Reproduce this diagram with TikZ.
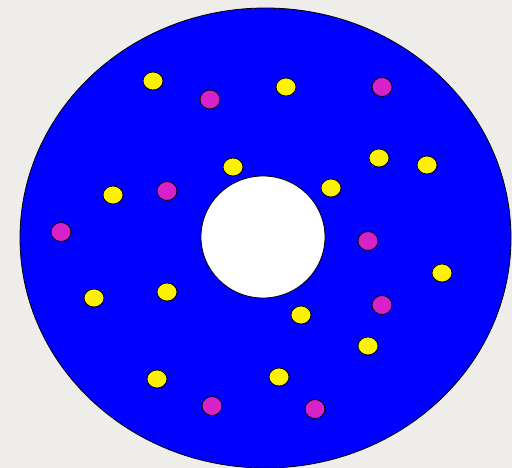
\documentclass[tikz,border=0pt]{standalone}
\begin{document}
\begin{tikzpicture}[x=1pt,y=-1pt,
  ydot/.style={fill=yellow,draw=black,line width=0.8pt},
  mdot/.style={fill=dotmag,draw=black,line width=0.8pt}]
\definecolor{paper}{HTML}{EFEDEA}
\definecolor{dotmag}{HTML}{D622C8}
\definecolor{ringblue}{HTML}{0000FF}
\fill[paper] (0,0) rectangle (512,468);
\useasboundingbox (0,0) rectangle (512,468);
\filldraw[fill=ringblue,draw=black,line width=0.8pt] (265.5,238) ellipse [x radius=245.5,y radius=230];
\filldraw[fill=white,draw=black,line width=0.8pt] (263,237) ellipse [x radius=62,y radius=61];
\foreach \p in {(153,81),(286,87),(233,167),(379,158),(427,165),(113,195),(331,188),(442,273),(94,298),(167,292),(301,315),(368,346),(157,379),(279,377)}
  \filldraw[ydot] \p ellipse [x radius=10,y radius=9];
\foreach \p in {(210,99.5),(382,87),(167,191),(61,232),(368,241),(382,305),(212,406),(315,409)}
  \filldraw[mdot] \p ellipse [x radius=10,y radius=9.5];
\end{tikzpicture}
\end{document}
